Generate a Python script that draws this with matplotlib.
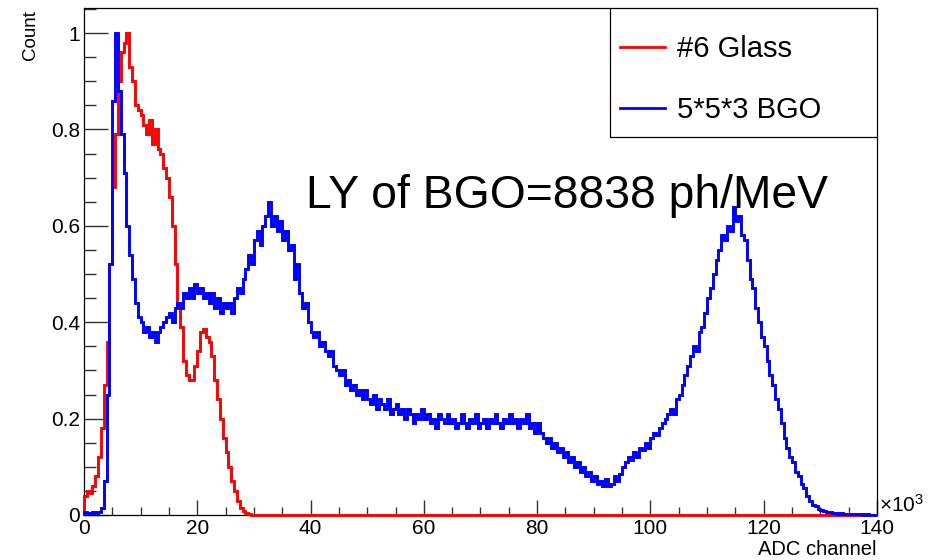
import numpy as np
import matplotlib
matplotlib.use("Agg")
import matplotlib.pyplot as plt
from matplotlib.patches import Rectangle

plt.rcParams['font.family'] = ['Liberation Sans', 'DejaVu Sans']
plt.rcParams['mathtext.fontset'] = 'custom'
plt.rcParams['mathtext.rm'] = 'Liberation Sans'

# ADC channel in units of 10^3, bin width 0.5
bin_width = 0.5

bgo_counts = [
    0.006, 0.004, 0.005, 0.006, 0.005, 0.007, 0.015, 0.07, 0.25, 0.52,
    0.86, 1.00, 0.88, 0.79, 0.71, 0.60, 0.54, 0.49, 0.44, 0.41,
    0.40, 0.38, 0.39, 0.37, 0.38, 0.36, 0.38, 0.39, 0.40, 0.41,
    0.42, 0.40, 0.43, 0.44, 0.43, 0.46, 0.45, 0.47, 0.45, 0.48,
    0.46, 0.47, 0.45, 0.46, 0.44, 0.46, 0.43, 0.45, 0.42, 0.44,
    0.43, 0.44, 0.42, 0.45, 0.47, 0.46, 0.49, 0.51, 0.54, 0.52,
    0.57, 0.59, 0.56, 0.60, 0.62, 0.65, 0.60, 0.62, 0.59, 0.61,
    0.57, 0.59, 0.55, 0.56, 0.49, 0.52, 0.46, 0.43, 0.44, 0.40,
    0.38, 0.37, 0.38, 0.35, 0.36, 0.34, 0.33, 0.34, 0.31, 0.30,
    0.29, 0.30, 0.27, 0.28, 0.26, 0.27, 0.25, 0.26, 0.24, 0.26,
    0.24, 0.23, 0.25, 0.22, 0.24, 0.23, 0.22, 0.24, 0.21, 0.22,
    0.23, 0.21, 0.22, 0.20, 0.22, 0.21, 0.19, 0.21, 0.20, 0.22,
    0.20, 0.21, 0.19, 0.20, 0.18, 0.21, 0.20, 0.19, 0.21, 0.19,
    0.20, 0.18, 0.19, 0.21, 0.19, 0.18, 0.20, 0.19, 0.21, 0.18,
    0.19, 0.20, 0.18, 0.20, 0.19, 0.21, 0.19, 0.18, 0.20, 0.19,
    0.21, 0.19, 0.20, 0.18, 0.20, 0.19, 0.21, 0.18, 0.19, 0.17,
    0.19, 0.17, 0.16, 0.15, 0.16, 0.14, 0.15, 0.13, 0.14, 0.12,
    0.13, 0.11, 0.12, 0.10, 0.11, 0.09, 0.10, 0.08, 0.09, 0.07,
    0.08, 0.065, 0.07, 0.06, 0.075, 0.06, 0.065, 0.08, 0.07, 0.085,
    0.10, 0.11, 0.12, 0.115, 0.13, 0.12, 0.14, 0.135, 0.15, 0.14,
    0.16, 0.17, 0.165, 0.18, 0.19, 0.20, 0.21, 0.22, 0.21, 0.24,
    0.25, 0.27, 0.29, 0.31, 0.33, 0.35, 0.34, 0.38, 0.39, 0.42,
    0.45, 0.47, 0.50, 0.53, 0.55, 0.58, 0.57, 0.60, 0.59, 0.64,
    0.61, 0.62, 0.58, 0.57, 0.53, 0.49, 0.47, 0.43, 0.40, 0.37,
    0.35, 0.32, 0.29, 0.27, 0.24, 0.22, 0.19, 0.16, 0.14, 0.12,
    0.11, 0.09, 0.08, 0.065, 0.055, 0.04, 0.03, 0.02, 0.018, 0.012,
    0.010, 0.009, 0.007, 0.006, 0.004, 0.005, 0.003, 0.004, 0.003, 0.002,
    0.003, 0.002, 0.002, 0.003, 0.002, 0.001, 0.002, 0.001, 0.001, 0.001,
]

glass_counts = [
    0.04, 0.05, 0.045, 0.06, 0.08, 0.12, 0.18, 0.27, 0.36, 0.52,
    0.68, 0.79, 0.90, 0.96, 0.98, 1.00, 0.93, 0.90, 0.85, 0.84,
    0.83, 0.81, 0.79, 0.82, 0.77, 0.80, 0.76, 0.75, 0.72, 0.70,
    0.66, 0.60, 0.52, 0.44, 0.39, 0.32, 0.29, 0.28, 0.28, 0.31,
    0.34, 0.38, 0.385, 0.37, 0.36, 0.33, 0.28, 0.24, 0.20, 0.16,
    0.13, 0.10, 0.07, 0.05, 0.03, 0.015, 0.008, 0.004, 0.002, 0.001,
] + [0.0] * 220

labels = ["#6 Glass", "5*5*3 BGO"]
annotation = "LY of BGO=8838 ph/MeV"

W, H = 936, 560
AX_L, AX_R, AX_T, AX_B = 84, 877, 8, 515
fig = plt.figure(figsize=(W / 100, H / 100), dpi=100)
ax = fig.add_axes([AX_L / W, 1 - AX_B / H, (AX_R - AX_L) / W, (AX_B - AX_T) / H])


def ax_frac(px, py):
    return (px - AX_L) / (AX_R - AX_L), (AX_B - py) / (AX_B - AX_T)


edges_b = np.arange(len(bgo_counts) + 1) * bin_width
edges_g = np.arange(len(glass_counts) + 1) * bin_width
ax.stairs(glass_counts, edges_g, color='#ff0000', lw=2.1, label=labels[0], zorder=3, clip_on=False)
ax.stairs(bgo_counts, edges_b, color='#0000ff', lw=2.1, label=labels[1], zorder=3, clip_on=False)

ax.set_xlim(0, 140)
ax.set_ylim(0, 1.052)
ax.set_xticks(np.arange(0, 141, 20))
ax.set_xticks(np.arange(0, 141, 5), minor=True)
ax.set_yticks([0, 0.2, 0.4, 0.6, 0.8, 1.0])
ax.set_yticklabels(['0', '0.2', '0.4', '0.6', '0.8', '1'])
ax.set_yticks(np.arange(0, 1.051, 0.05), minor=True)

ax.tick_params(axis='both', which='both', direction='in', colors='#333333', labelcolor='black')
ax.tick_params(axis='x', which='major', length=11, width=1.0, labelsize=15, pad=3)
ax.tick_params(axis='x', which='minor', length=5.5, width=1.0)
ax.tick_params(axis='y', which='major', length=17, width=1.0, labelsize=15, pad=3)
ax.tick_params(axis='y', which='minor', length=8.5, width=1.0)
for s in ax.spines.values():
    s.set_linewidth(0.9)

fig.text(31 / W, 1 - 10 / H, "Count", rotation=90, ha='center', va='top', fontsize=13.5)
fig.text(877 / W, 1 - 559 / H, "ADC channel", ha='right', va='bottom', fontsize=14.5)
fig.text(879 / W, 1 - 516 / H, r"$\mathregular{\times10^{3}}$", ha='left', va='bottom', fontsize=15)
fig.text(306 / W, 1 - 208 / H, annotation, ha='left', va='baseline', fontsize=33.3)

# legend box (ROOT-style, wide right margin)
bx0, by0 = ax_frac(610, 137)
box = Rectangle((bx0, by0), 1 - bx0, 1 - by0, transform=ax.transAxes,
                facecolor='white', edgecolor='black', lw=0.9, zorder=4)
ax.add_patch(box)
ax_anchor = ax_frac(610, 25)
leg = ax.legend(loc='upper left', bbox_to_anchor=ax_anchor, borderaxespad=0.0,
                frameon=False, fontsize=21, handlelength=1.55, handletextpad=0.4,
                labelspacing=1.14, borderpad=0.35)
leg.set_zorder(5)
for line in leg.get_lines():
    line.set_linewidth(2.0)

fig.savefig("out.png", dpi=100)
